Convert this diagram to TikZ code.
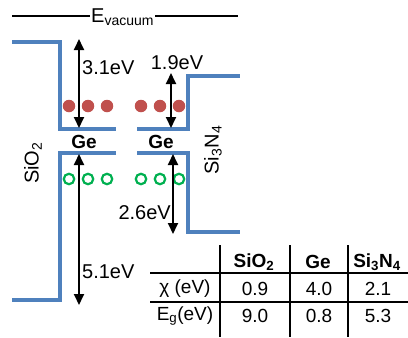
\documentclass[tikz,border=0pt]{standalone}
\usepackage{fontspec}
\setmainfont{Liberation Sans}
\usetikzlibrary{arrows.meta}
\definecolor{bandblue}{RGB}{79,129,189}
\definecolor{dotred}{RGB}{192,80,77}
\definecolor{dotgreen}{RGB}{0,176,80}
\tikzset{
  band/.style={draw=bandblue,line width=4pt},
  gap/.style={draw=black,line width=1.8pt,{Triangle[width=10pt,length=11pt]}-{Triangle[width=10pt,length=11pt]}},
  lbl/.style={font=\fontsize{20}{20}\selectfont,inner sep=0pt},
  elec/.style={fill=dotred,draw=none,circle,minimum size=12.5pt,inner sep=0pt},
  hole/.style={draw=dotgreen,line width=2.2pt,circle,minimum size=10.5pt,inner sep=0pt},
  tab/.style={draw=black,line width=2.2pt},
  cell/.style={font=\fontsize{19}{19}\selectfont,inner sep=0pt},
  hcell/.style={font=\bfseries\fontsize{19}{19}\selectfont,inner sep=0pt},
}
\begin{document}
\begin{tikzpicture}[x=1pt,y=-1pt]
\useasboundingbox (0,0) rectangle (408,338);
% vacuum level
\node[lbl,anchor=west] (ev) at (91,17) {E\textsubscript{vacuum}};
\coordinate (evl) at (12,16);
\coordinate (evr) at (238,16);
\draw[line width=1.2pt] (evl) -- ([xshift=-1pt]ev.west |- evl);
\draw[line width=1.2pt] ([xshift=1pt]ev.east |- evr) -- (evr);
% bands
\draw[band] (12,42) -- (60,42) -- (60,129) -- (116,129);
\draw[band] (116,153) -- (60,153) -- (60,300) -- (12,300);
\draw[band] (137,129) -- (188,129) -- (188,76) -- (240,76);
\draw[band] (137,153) -- (188,153) -- (188,232) -- (240,232);
% dots
\foreach \x [count=\i] in {69,88,107,141,160,179}{
  \node[elec] (e\i) at (\x,106) {};
  \node[hole] (h\i) at (\x,179) {};
}
% arrows
\coordinate (a1t) at (79,39); \coordinate (a1b) at (79,128);
\coordinate (a2t) at (171,73); \coordinate (a2b) at (171,128);
\coordinate (a3t) at (79,154); \coordinate (a3b) at (79,305);
\coordinate (a4t) at (173,154); \coordinate (a4b) at (173,234);
\draw[gap] (a1t) -- (a1b);
\draw[gap] (a2t) -- (a2b);
\draw[gap] (a3t) -- (a3b);
\draw[gap] (a4t) -- (a4b);
\node[lbl,anchor=west] (l1) at (82,68) {3.1eV};
\node[lbl] (l2) at (177,63) {1.9eV};
\node[lbl,anchor=west] (l3) at (82,272) {5.1eV};
\node[lbl,anchor=east] (l4) at (171,213) {2.6eV};
% labels
\node[lbl,font=\bfseries\fontsize{19}{19}\selectfont] (ge1) at (84,142) {Ge};
\node[lbl,font=\bfseries\fontsize{19}{19}\selectfont] (ge2) at (161,142) {Ge};
\node[lbl,rotate=90] (sio) at (33,163) {SiO\textsubscript{2}};
\node[lbl,rotate=90] (sin) at (213,150) {Si\textsubscript{3}N\textsubscript{4}};
% table
\draw[tab] (150,273) -- (408,273);
\draw[tab] (150,302) -- (408,302);
\draw[tab] (220,245) -- (220,337);
\draw[tab] (290,245) -- (290,337);
\draw[tab] (348,245) -- (348,337);
\node[hcell] (c12) at (254,262) {SiO\textsubscript{2}};
\node[hcell] (c13) at (318,262) {Ge};
\node[hcell] (c14) at (377,262) {Si\textsubscript{3}N\textsubscript{4}};
\node[cell] (c21) at (185,289) {χ (eV)};
\node[cell] (c22) at (255,289) {0.9};
\node[cell] (c23) at (319,289) {4.0};
\node[cell] (c24) at (378,289) {2.1};
\node[cell] (c31) at (185,316) {E\textsubscript{g}(eV)};
\node[cell] (c32) at (255,316) {9.0};
\node[cell] (c33) at (319,316) {0.8};
\node[cell] (c34) at (378,316) {5.3};
\end{tikzpicture}
\end{document}
